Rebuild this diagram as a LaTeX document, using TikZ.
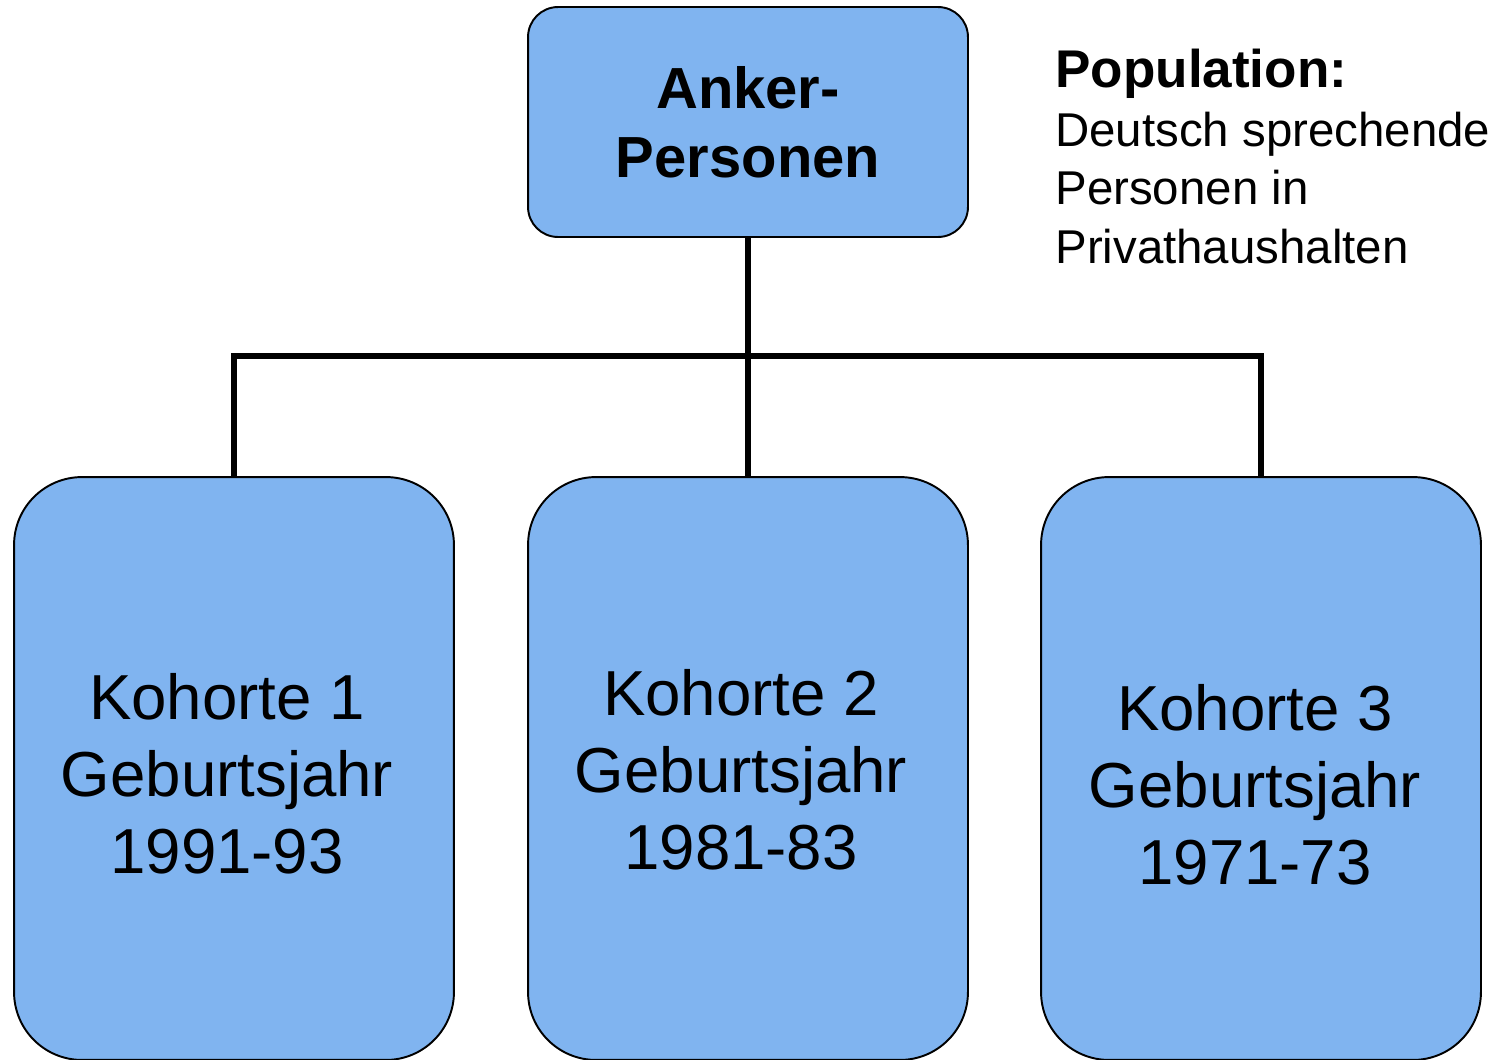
\documentclass[tikz,border=0pt]{standalone}
\usepackage{fontspec}
\setmainfont{Liberation Sans}
\definecolor{boxblue}{RGB}{128,180,240}
\tikzset{
    kasten/.style={draw=black, line width=1.1pt, fill=boxblue, inner sep=0pt, minimum width=8.8cm},
    linie/.style={line width=3.3pt},
}
\begin{document}
\begin{tikzpicture}[x=0.02cm,y=-0.02cm]
            \useasboundingbox (0,0) rectangle (1497,1059);
            \node[kasten, rounded corners=0.6cm, minimum height=4.6cm, align=center, font=\bfseries\fontsize{33}{39.3}\selectfont] (anker) at (748,122) {Anker-\\Personen};
            \foreach \i/\x/\yr/\dx/\dy in {1/234/1991-93/-7/5, 2/748/1981-83/-7/1, 3/1261/1971-73/-6/16} {
                \node[kasten, rounded corners=1.36cm, minimum height=11.66cm] (k\i) at (\x,768.5) {};
                \node[align=center, inner sep=0pt, font=\fontsize{36.2}{43.8}\selectfont] (t\i) at ([shift={(\dx,\dy)}]k\i.center) {Kohorte \i\\Geburtsjahr\\\yr};
            }
            \coordinate (bus) at (748,356);
            \draw[linie] (anker.south) -- (k2.north);
            \draw[linie] (k1.north) -- (k1.north |- bus) -- (k3.north |- bus) -- (k3.north);
            \node[anchor=north west, inner sep=0pt, align=left, font=\fontsize{27}{33.3}\selectfont] (pop) at (1055,49) {{\bfseries\fontsize{30.2}{33.3}\selectfont Population:}\\Deutsch sprechende\\Personen in\\Privathaushalten};
        \end{tikzpicture}
\end{document}
